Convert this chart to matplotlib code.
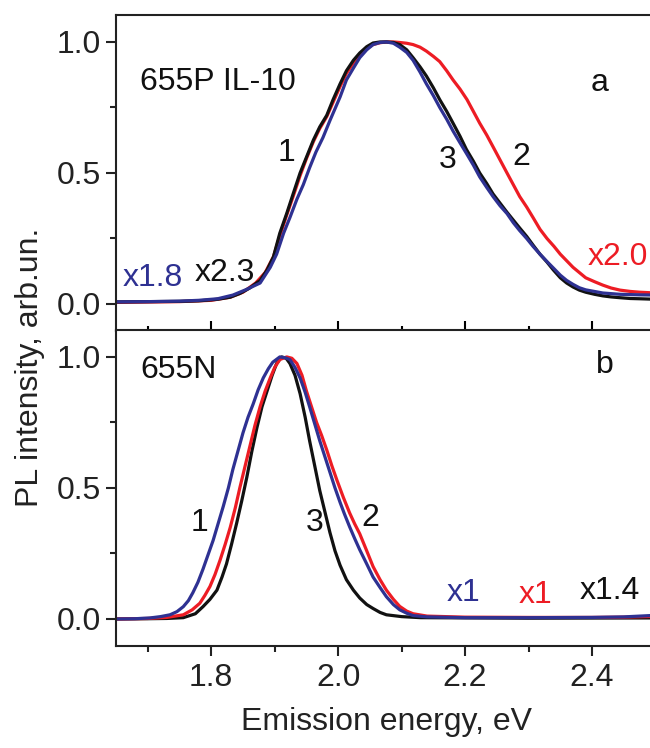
import numpy as np
import matplotlib
matplotlib.use('Agg')
import matplotlib.pyplot as plt
from matplotlib.ticker import MultipleLocator, FormatStrFormatter

plt.rcParams['font.family'] = ['Liberation Sans', 'DejaVu Sans']

BLUE = '#2e3192'
RED = '#ed1c24'
BLACK = '#111111'

# panel a (655P IL-10)
a_black_x = [1.65, 1.70, 1.75, 1.78, 1.81, 1.83, 1.845, 1.86, 1.877, 1.888, 1.898, 1.908, 1.919, 1.929,
             1.94, 1.95, 1.961, 1.971, 1.982, 1.992, 2.003, 2.013, 2.024, 2.034, 2.045, 2.055, 2.066,
             2.076, 2.087, 2.097, 2.108, 2.118, 2.129, 2.139, 2.15, 2.16, 2.171, 2.181, 2.192, 2.202,
             2.213, 2.223, 2.234, 2.244, 2.255, 2.266, 2.276, 2.286, 2.297, 2.307, 2.318, 2.329, 2.339,
             2.35, 2.36, 2.37, 2.38, 2.39, 2.404, 2.417, 2.43, 2.444, 2.46, 2.475, 2.50]
a_black_y = [0.008, 0.009, 0.010, 0.012, 0.018, 0.026, 0.04, 0.06, 0.09, 0.13, 0.18, 0.27, 0.346, 0.42,
             0.50, 0.56, 0.626, 0.676, 0.72, 0.78, 0.84, 0.89, 0.93, 0.958, 0.982, 0.996, 1.0,
             1.0, 0.998, 0.99, 0.97, 0.94, 0.905, 0.87, 0.825, 0.78, 0.735, 0.69, 0.64, 0.59,
             0.545, 0.50, 0.46, 0.42, 0.385, 0.35, 0.32, 0.29, 0.258, 0.225, 0.19, 0.16, 0.13,
             0.10, 0.08, 0.065, 0.053, 0.045, 0.037, 0.031, 0.027, 0.024, 0.021, 0.02, 0.018]

a_red_x = [1.65, 1.75, 1.80, 1.83, 1.85, 1.87, 1.885, 1.898, 1.908, 1.919, 1.929, 1.94, 1.95, 1.961,
           1.971, 1.982, 1.992, 2.003, 2.013, 2.024, 2.034, 2.045, 2.055, 2.066, 2.076, 2.087, 2.097,
           2.108, 2.118, 2.129, 2.139, 2.15, 2.16, 2.171, 2.181, 2.192, 2.203, 2.213, 2.223, 2.234,
           2.244, 2.255, 2.266, 2.276, 2.286, 2.297, 2.307, 2.318, 2.329, 2.34, 2.35, 2.36, 2.37,
           2.38, 2.39, 2.404, 2.417, 2.43, 2.444, 2.46, 2.475, 2.50]
a_red_y = [0.006, 0.009, 0.014, 0.026, 0.045, 0.08, 0.12, 0.18, 0.26, 0.34, 0.41, 0.49, 0.555, 0.62,
           0.67, 0.715, 0.77, 0.83, 0.88, 0.92, 0.95, 0.975, 0.99, 0.997, 1.0, 1.0, 0.998,
           0.995, 0.99, 0.98, 0.965, 0.945, 0.925, 0.89, 0.855, 0.82, 0.78, 0.735, 0.69, 0.645,
           0.60, 0.55, 0.50, 0.455, 0.41, 0.37, 0.33, 0.285, 0.25, 0.22, 0.19, 0.165, 0.14,
           0.12, 0.10, 0.085, 0.072, 0.061, 0.053, 0.048, 0.045, 0.042]

a_blue_x = [1.65, 1.70, 1.75, 1.78, 1.81, 1.834, 1.855, 1.877, 1.893, 1.903, 1.914, 1.924, 1.935,
            1.945, 1.955, 1.965, 1.976, 1.987, 2.003, 2.013, 2.024, 2.034, 2.045, 2.055, 2.066, 2.076,
            2.087, 2.097, 2.108, 2.118, 2.129, 2.139, 2.15, 2.16, 2.171, 2.181, 2.192, 2.202, 2.213,
            2.223, 2.234, 2.244, 2.255, 2.266, 2.276, 2.286, 2.297, 2.307, 2.318, 2.329, 2.34, 2.35,
            2.36, 2.37, 2.38, 2.39, 2.417, 2.444, 2.475, 2.50]
a_blue_y = [0.008, 0.009, 0.011, 0.014, 0.02, 0.034, 0.055, 0.08, 0.14, 0.19, 0.27, 0.33, 0.40,
            0.455, 0.52, 0.58, 0.635, 0.70, 0.79, 0.855, 0.90, 0.94, 0.97, 0.99, 0.998, 1.0,
            0.995, 0.98, 0.96, 0.93, 0.885, 0.84, 0.795, 0.75, 0.705, 0.66, 0.615, 0.575, 0.53,
            0.485, 0.445, 0.41, 0.375, 0.345, 0.31, 0.28, 0.25, 0.22, 0.19, 0.162, 0.135, 0.11,
            0.09, 0.075, 0.062, 0.054, 0.042, 0.037, 0.035, 0.034]

# panel b (655N)
b_blue_x = [1.65, 1.68, 1.7035, 1.72, 1.735, 1.746, 1.756, 1.764, 1.771, 1.779, 1.787, 1.795, 1.803,
            1.811, 1.819, 1.827, 1.834, 1.842, 1.85, 1.858, 1.866, 1.874, 1.882, 1.89, 1.897, 1.908,
            1.916, 1.924, 1.932, 1.94, 1.948, 1.955, 1.963, 1.971, 1.979, 1.987, 1.995, 2.003, 2.01,
            2.018, 2.026, 2.034, 2.045, 2.055, 2.066, 2.076, 2.087, 2.097, 2.108, 2.118, 2.14, 2.2,
            2.3, 2.4, 2.45, 2.5]
b_blue_y = [0.0, 0.001, 0.004, 0.009, 0.016, 0.028, 0.047, 0.07, 0.10, 0.14, 0.19, 0.245, 0.30,
            0.365, 0.43, 0.50, 0.57, 0.64, 0.71, 0.77, 0.82, 0.875, 0.92, 0.955, 0.98, 1.0,
            0.997, 0.99, 0.96, 0.92, 0.865, 0.81, 0.745, 0.68, 0.62, 0.56, 0.50, 0.445, 0.40,
            0.352, 0.307, 0.264, 0.21, 0.16, 0.12, 0.085, 0.055, 0.035, 0.022, 0.013, 0.008, 0.005,
            0.005, 0.006, 0.008, 0.014]

b_red_x = [1.65, 1.70, 1.73, 1.756, 1.77, 1.782, 1.79, 1.798, 1.806, 1.814, 1.822, 1.83, 1.838,
           1.845, 1.853, 1.861, 1.869, 1.877, 1.885, 1.893, 1.90, 1.908, 1.919, 1.927, 1.935, 1.943,
           1.95, 1.958, 1.966, 1.974, 1.982, 1.99, 1.998, 2.008, 2.018, 2.026, 2.034, 2.045, 2.055,
           2.066, 2.076, 2.087, 2.097, 2.108, 2.118, 2.14, 2.2, 2.3, 2.4, 2.45, 2.5]
b_red_y = [0.0, 0.002, 0.006, 0.016, 0.035, 0.06, 0.09, 0.124, 0.17, 0.225, 0.285, 0.35, 0.425,
           0.50, 0.58, 0.66, 0.74, 0.81, 0.87, 0.92, 0.96, 0.99, 1.0, 0.995, 0.975, 0.93,
           0.87, 0.81, 0.75, 0.70, 0.645, 0.585, 0.53, 0.465, 0.405, 0.363, 0.325, 0.26, 0.20,
           0.15, 0.11, 0.075, 0.048, 0.03, 0.02, 0.011, 0.007, 0.006, 0.006, 0.007, 0.01]

b_black_x = [1.65, 1.70, 1.73, 1.756, 1.775, 1.787, 1.798, 1.809, 1.817, 1.824, 1.832, 1.84, 1.848,
             1.856, 1.864, 1.872, 1.88, 1.888, 1.896, 1.903, 1.911, 1.918, 1.924, 1.932, 1.94, 1.948,
             1.955, 1.963, 1.971, 1.979, 1.987, 1.995, 2.003, 2.013, 2.024, 2.034, 2.045, 2.055,
             2.066, 2.076, 2.10, 2.13, 2.3, 2.5]
b_black_y = [0.0, 0.001, 0.002, 0.005, 0.02, 0.047, 0.075, 0.11, 0.16, 0.21, 0.285, 0.365, 0.45,
             0.54, 0.64, 0.73, 0.81, 0.87, 0.93, 0.975, 1.0, 0.995, 0.975, 0.93, 0.86, 0.77,
             0.68, 0.585, 0.49, 0.41, 0.33, 0.26, 0.205, 0.15, 0.11, 0.08, 0.055, 0.04,
             0.025, 0.016, 0.009, 0.005, 0.003, 0.004]

FS = 23

fig = plt.figure(figsize=(6.5, 7.48), dpi=100)
ax_a = fig.add_axes([0.1785, 0.5575, 0.83, 0.4225])
ax_b = fig.add_axes([0.1785, 0.1364, 0.83, 0.4225])

ax_a.plot(a_red_x, a_red_y, color=RED, lw=2.3)
ax_a.plot(a_black_x, a_black_y, color=BLACK, lw=2.3)
ax_a.plot(a_blue_x, a_blue_y, color=BLUE, lw=2.3)

ax_b.plot(b_black_x, b_black_y, color=BLACK, lw=2.3)
ax_b.plot(b_red_x, b_red_y, color=RED, lw=2.3)
ax_b.plot(b_blue_x, b_blue_y, color=BLUE, lw=2.3)

for ax in (ax_a, ax_b):
    ax.set_xlim(1.65, 2.5)
    ax.set_ylim(-0.103, 1.103)
    ax.yaxis.set_major_locator(MultipleLocator(0.5))
    ax.yaxis.set_minor_locator(MultipleLocator(0.25))
    ax.yaxis.set_major_formatter(FormatStrFormatter('%.1f'))
    ax.xaxis.set_major_locator(MultipleLocator(0.2))
    ax.xaxis.set_minor_locator(MultipleLocator(0.1))
    ax.xaxis.set_major_formatter(FormatStrFormatter('%.1f'))
    for s in ax.spines.values():
        s.set_linewidth(1.5)
        s.set_color('#222222')
    ax.tick_params(axis='y', which='major', direction='out', length=7, width=1.5,
                   labelsize=FS, pad=4, colors='#222222')
    ax.tick_params(axis='y', which='minor', direction='out', length=4, width=1.5, colors='#222222')

ax_a.tick_params(axis='x', which='major', direction='in', length=7, width=1.5, labelbottom=False)
ax_a.tick_params(axis='x', which='minor', direction='in', length=3.5, width=1.5)
ax_b.tick_params(axis='x', which='major', direction='out', length=7, width=1.5,
                 labelsize=FS, pad=5, colors='#222222')
ax_b.tick_params(axis='x', which='minor', direction='out', length=4, width=1.5, colors='#222222')

# panel a labels
ax_a.text(1.688, 0.847, '655P IL-10', fontsize=FS, ha='left', va='center', color=BLACK)
ax_a.text(2.412, 0.843, 'a', fontsize=FS, ha='center', va='center', color=BLACK)
ax_a.text(1.919, 0.576, '1', fontsize=FS, ha='center', va='center', color=BLACK)
ax_a.text(2.173, 0.55, '3', fontsize=FS, ha='center', va='center', color=BLACK)
ax_a.text(2.289, 0.56, '2', fontsize=FS, ha='center', va='center', color=BLACK)
ax_a.text(1.661, 0.099, 'x1.8', fontsize=FS, ha='left', va='center', color=BLUE)
ax_a.text(1.774, 0.118, 'x2.3', fontsize=FS, ha='left', va='center', color=BLACK)
ax_a.text(2.393, 0.18, 'x2.0', fontsize=FS, ha='left', va='center', color=RED)

# panel b labels
ax_b.text(1.688, 0.95, '655N', fontsize=FS, ha='left', va='center', color=BLACK)
ax_b.text(2.42, 0.968, 'b', fontsize=FS, ha='center', va='center', color=BLACK)
ax_b.text(1.782, 0.367, '1', fontsize=FS, ha='center', va='center', color=BLACK)
ax_b.text(1.963, 0.367, '3', fontsize=FS, ha='center', va='center', color=BLACK)
ax_b.text(2.05, 0.386, '2', fontsize=FS, ha='center', va='center', color=BLACK)
ax_b.text(2.171, 0.10, 'x1', fontsize=FS, ha='left', va='center', color=BLUE)
ax_b.text(2.285, 0.093, 'x1', fontsize=FS, ha='left', va='center', color=RED)
ax_b.text(2.381, 0.108, 'x1.4', fontsize=FS, ha='left', va='center', color=BLACK)

fig.text(0.046, 0.509, 'PL intensity, arb.un.', fontsize=FS, rotation=90,
         ha='center', va='center', color='#222222')
fig.text(0.595, 0.035, 'Emission energy, eV', fontsize=FS,
         ha='center', va='center', color='#222222')

fig.savefig('out.png', dpi=100)
